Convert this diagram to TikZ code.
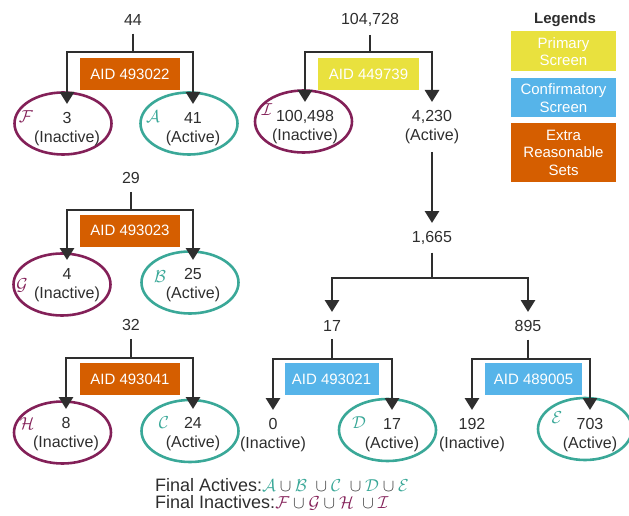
\documentclass[tikz,border=0pt]{standalone}
\usepackage{fontspec}
\setmainfont{Liberation Sans}
\usetikzlibrary{arrows.meta,shapes.geometric}
\definecolor{aidorange}{HTML}{D55E00}
\definecolor{aidyellow}{HTML}{E9E13E}
\definecolor{aidblue}{HTML}{56B4E9}
\definecolor{activeteal}{HTML}{3AA898}
\definecolor{inactivepurple}{HTML}{832058}
\definecolor{txt}{HTML}{2E2E2E}

\begin{document}
\begin{tikzpicture}[x=1pt, y=-1pt,
    num/.style={text=txt, font=\fontsize{16}{19}\selectfont, align=center, inner xsep=2pt, inner ysep=8pt},
    aid/.style={fill=#1, text=white, font=\fontsize{15}{18}\selectfont, minimum width=100pt, minimum height=32pt, inner sep=0pt},
    legendbox/.style={fill=#1, text=white, font=\fontsize{15}{17.5}\selectfont, align=center, minimum width=105pt, inner sep=0pt},
    stem/.style={draw=txt, line width=2.8pt},
    flow/.style={stem, -{Triangle[width=14pt,length=12pt]}},
    actset/.style={draw=activeteal, ellipse, line width=2.6pt, minimum width=97pt, minimum height=62pt, inner sep=0pt},
    inactset/.style={actset, draw=inactivepurple},
    setname/.style={font=\fontsize{18}{18}\selectfont, text=#1, inner sep=0pt},
    final/.style={text=txt, font=\fontsize{18}{18}\selectfont, anchor=base west, inner sep=0pt},
]
\useasboundingbox (0,0) rectangle (629,516);

% sets
\node[inactset] (setF) at (63,123.5) {};
\node[actset] (setA) at (189,123.5) {};
\node[inactset] (setG) at (62,284.5) {};
\node[actset] (setB) at (190,282.5) {};
\node[inactset] (setH) at (62.5,432.5) {};
\node[actset] (setC) at (190,431) {};
\node[inactset] (setI) at (303.5,121.5) {};
\node[actset] (setD) at (387.5,430) {};
\node[actset, minimum width=94pt] (setE) at (585,429) {};

\node[setname=inactivepurple] (nameF) at (26,117) {$\mathcal{F}$};
\node[setname=activeteal] (nameA) at (153,117) {$\mathcal{A}$};
\node[setname=inactivepurple] (nameG) at (22,285) {$\mathcal{G}$};
\node[setname=activeteal] (nameB) at (160,277) {$\mathcal{B}$};
\node[setname=inactivepurple] (nameH) at (27,424) {$\mathcal{H}$};
\node[setname=activeteal] (nameC) at (164,423) {$\mathcal{C}$};
\node[setname=inactivepurple] (nameI) at (267,110) {$\mathcal{I}$};
\node[setname=activeteal] (nameD) at (359,423) {$\mathcal{D}$};
\node[setname=activeteal] (nameE) at (557,418) {$\mathcal{E}$};

% AID 493022
\node[num] (n44) at (133,20) {44};
\coordinate (j44) at (133,52);
\node[aid=aidorange] (aid1) at (130,74) {AID 493022};
\node[num, anchor=north] (c3) at (67,104) {3\\(Inactive)};
\node[num, anchor=north] (c41) at (193,104) {41\\(Active)};
\draw[stem] (n44) -- (j44);
\draw[flow] (j44) -| (c3.north);
\draw[flow] (j44) -| (c41.north);

% AID 493023
\node[num] (n29) at (131,178) {29};
\coordinate (j29) at (131,210);
\node[aid=aidorange] (aid2) at (130,230.5) {AID 493023};
\node[num, anchor=north] (c4) at (67,260) {4\\(Inactive)};
\node[num, anchor=north] (c25) at (193,260) {25\\(Active)};
\draw[stem] (n29) -- (j29);
\draw[flow] (j29) -| (c4.north);
\draw[flow] (j29) -| (c25.north);

% AID 493041
\node[num] (n32) at (131,325) {32};
\coordinate (j32) at (131,358);
\node[aid=aidorange] (aid3) at (130,379) {AID 493041};
\node[num, anchor=north] (c8) at (66,409) {8\\(Inactive)};
\node[num, anchor=north] (c24) at (193,409) {24\\(Active)};
\draw[stem] (n32) -- (j32);
\draw[flow] (j32) -| (c8.north);
\draw[flow] (j32) -| (c24.north);

% AID 449739
\node[num] (n104728) at (370,20) {104,728};
\coordinate (j104728) at (370,52);
\node[aid=aidyellow, minimum width=101pt] (aid4) at (368.5,74) {AID 449739};
\node[num, anchor=north] (c100498) at (305,102) {100,498\\(Inactive)};
\node[num, anchor=north] (c4230) at (432,102) {4,230\\(Active)};
\draw[stem] (n104728) -- (j104728);
\draw[flow] (j104728) -| (c100498.north);
\draw[flow] (j104728) -| (c4230.north);

\node[num, anchor=north] (n1665) at (432,223) {1,665};
\draw[flow] (c4230) -- (n1665);
\coordinate (j1665) at (432,278);
\node[num, anchor=north] (n17) at (332,312) {17};
\node[num, anchor=north] (n895) at (528,312) {895};
\draw[stem] (n1665) -- (j1665);
\draw[flow] (j1665) -| (n17.north);
\draw[flow] (j1665) -| (n895.north);

% AID 493021
\coordinate (j17) at (332,359);
\node[aid=aidblue, minimum width=94pt] (aid5) at (331.5,379) {AID 493021};
\node[num, anchor=north] (c0) at (273,410) {0\\(Inactive)};
\node[num, anchor=north] (c17) at (392,410) {17\\(Active)};
\draw[stem] (n17) -- (j17);
\draw[flow] (j17) -| (c0.north);
\draw[flow] (j17) -| (c17.north);

% AID 489005
\coordinate (j895) at (528,359);
\node[aid=aidblue, minimum width=97pt] (aid6) at (533.5,379) {AID 489005};
\node[num, anchor=north] (c192) at (472,410) {192\\(Inactive)};
\node[num, anchor=north] (c703) at (590,410) {703\\(Active)};
\draw[stem] (n895) -- (j895);
\draw[flow] (j895) -| (c192.north);
\draw[flow] (j895) -| (c703.north);

% legend
\node[text=txt, font=\fontsize{15}{18}\selectfont\bfseries] (legtitle) at (565,20) {Legends};
\node[legendbox=aidyellow, minimum height=40pt] (legprimary) at (563.5,51.5) {Primary\\Screen};
\node[legendbox=aidblue, minimum height=39pt] (legconfirm) at (563.5,98) {Confirmatory\\Screen};
\node[legendbox=aidorange, minimum height=58pt] (legextra) at (563.5,152.5) {Extra\\Reasonable\\Sets};

% final sets
\node[final] (finalact) at (155,491.5) {Final Actives:$\color{activeteal}\mathcal{A}\color{txt}\cup\color{activeteal}\mathcal{B}\;\color{txt}\cup\color{activeteal}\mathcal{C}\;\color{txt}\cup\color{activeteal}\mathcal{D}\color{txt}\cup\color{activeteal}\mathcal{E}$};
\node[final] (finalinact) at (155,508) {Final Inactives:$\color{inactivepurple}\mathcal{F}\color{txt}\cup\color{inactivepurple}\mathcal{G}\color{txt}\cup\color{inactivepurple}\mathcal{H}\;\color{txt}\cup\color{inactivepurple}\mathcal{I}$};
\end{tikzpicture}
\end{document}
